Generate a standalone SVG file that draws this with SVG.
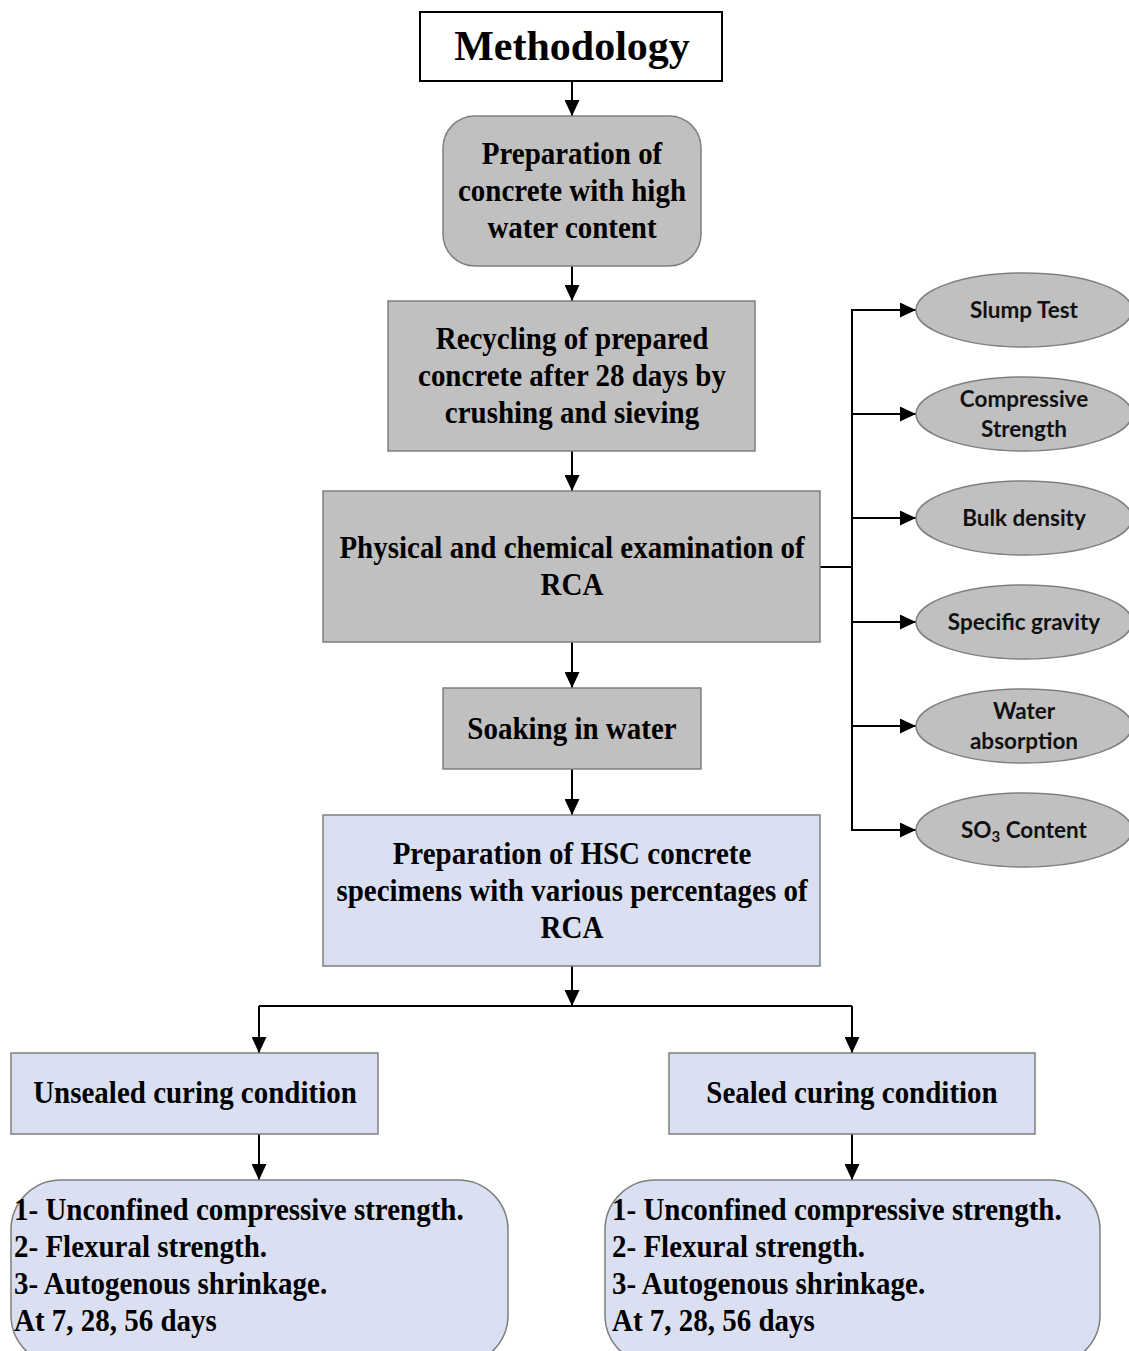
<svg xmlns="http://www.w3.org/2000/svg" width="1129" height="1351" viewBox="0 0 1129 1351">
<defs>
<style>
.box{fill:#c0c0c0;stroke:#7f7f7f;stroke-width:1.5}
.blue{fill:#dae0f2;stroke:#7f7f7f;stroke-width:1.5}
.ell{fill:#c0c0c0;stroke:#7f7f7f;stroke-width:1.5}
.t{font-family:"Liberation Serif","Times New Roman",serif;font-weight:bold;font-size:29px;fill:#000;text-anchor:middle}
.tl{font-family:"Liberation Serif","Times New Roman",serif;font-weight:bold;font-size:29px;fill:#000}
.e{font-family:Lato,"Open Sans",sans-serif;font-weight:bold;font-size:22.5px;fill:#111;text-anchor:middle}
.c{fill:none;stroke:#000;stroke-width:2}
</style>
<marker id="ah" viewBox="0 0 16 15" refX="16" refY="7.5" markerWidth="16" markerHeight="15" markerUnits="userSpaceOnUse" orient="auto">
<path d="M0,0 L16,7.5 L0,15 z" fill="#000"/>
</marker>
</defs>
<rect width="1129" height="1351" fill="#fff"/>

<g id="connectors">
<path class="c" d="M572,81 V116" marker-end="url(#ah)"/>
<path class="c" d="M572,266 V301" marker-end="url(#ah)"/>
<path class="c" d="M572,451 V491" marker-end="url(#ah)"/>
<path class="c" d="M572,642 V688" marker-end="url(#ah)"/>
<path class="c" d="M572,769 V815" marker-end="url(#ah)"/>
<path class="c" d="M572,966 V1006" marker-end="url(#ah)"/>
<path class="c" d="M259,1006 H852"/>
<path class="c" d="M259,1006 V1053" marker-end="url(#ah)"/>
<path class="c" d="M852,1006 V1053" marker-end="url(#ah)"/>
<path class="c" d="M259,1134 V1180" marker-end="url(#ah)"/>
<path class="c" d="M852,1134 V1180" marker-end="url(#ah)"/>
<path class="c" d="M820,567 H852"/>
<path class="c" d="M852,309 V830"/>
<path class="c" d="M852,310 H916" marker-end="url(#ah)"/>
<path class="c" d="M852,414 H916" marker-end="url(#ah)"/>
<path class="c" d="M852,518 H916" marker-end="url(#ah)"/>
<path class="c" d="M852,622 H916" marker-end="url(#ah)"/>
<path class="c" d="M852,726 H916" marker-end="url(#ah)"/>
<path class="c" d="M851,830 H916" marker-end="url(#ah)"/>
</g>

<g id="methodology">
<rect x="420" y="12" width="302" height="69" fill="#fff" stroke="#000" stroke-width="2"/>
<text class="t" x="572" y="60" style="font-size:42px">Methodology</text>
</g>

<g id="prep">
<rect class="box" x="443" y="116" width="258" height="150" rx="32"/>
<text class="t" transform="translate(572,164) scale(1,1.12)">Preparation of</text>
<text class="t" transform="translate(572,201) scale(1,1.12)">concrete with high</text>
<text class="t" transform="translate(572,238) scale(1,1.12)">water content</text>
</g>

<g id="recycling">
<rect class="box" x="388" y="301" width="367" height="150"/>
<text class="t" transform="translate(572,349) scale(1,1.12)">Recycling of prepared</text>
<text class="t" transform="translate(572,386) scale(1,1.12)">concrete after 28 days by</text>
<text class="t" transform="translate(572,423) scale(1,1.12)">crushing and sieving</text>
</g>

<g id="examination">
<rect class="box" x="323" y="491" width="497" height="151"/>
<text class="t" transform="translate(572,558) scale(1,1.12)">Physical and chemical examination of</text>
<text class="t" transform="translate(572,595) scale(1,1.12)">RCA</text>
</g>

<g id="soaking">
<rect class="box" x="443" y="688" width="258" height="81"/>
<text class="t" transform="translate(572,739) scale(1,1.12)">Soaking in water</text>
</g>

<g id="hsc">
<rect class="blue" x="323" y="815" width="497" height="151"/>
<text class="t" transform="translate(572,864) scale(1,1.12)">Preparation of HSC concrete</text>
<text class="t" transform="translate(572,901) scale(1,1.12)">specimens with various percentages of</text>
<text class="t" transform="translate(572,938) scale(1,1.12)">RCA</text>
</g>

<g id="unsealed">
<rect class="blue" x="11" y="1053" width="367" height="81"/>
<text class="t" transform="translate(195,1103) scale(1,1.12)">Unsealed curing condition</text>
</g>

<g id="sealed">
<rect class="blue" x="669" y="1053" width="366" height="81"/>
<text class="t" transform="translate(852,1103) scale(1,1.12)">Sealed curing condition</text>
</g>

<g id="tests-unsealed">
<rect class="blue" x="11" y="1180" width="497" height="185" rx="50"/>
<text class="tl" transform="translate(14,1220) scale(1,1.12)">1- Unconfined compressive strength.</text>
<text class="tl" transform="translate(14,1257) scale(1,1.12)">2- Flexural strength.</text>
<text class="tl" transform="translate(14,1294) scale(1,1.12)">3- Autogenous shrinkage.</text>
<text class="tl" transform="translate(14,1331) scale(1,1.12)">At 7, 28, 56 days</text>
</g>

<g id="tests-sealed">
<rect class="blue" x="605" y="1180" width="495" height="185" rx="50"/>
<text class="tl" transform="translate(612,1220) scale(1,1.12)">1- Unconfined compressive strength.</text>
<text class="tl" transform="translate(612,1257) scale(1,1.12)">2- Flexural strength.</text>
<text class="tl" transform="translate(612,1294) scale(1,1.12)">3- Autogenous shrinkage.</text>
<text class="tl" transform="translate(612,1331) scale(1,1.12)">At 7, 28, 56 days</text>
</g>

<g id="slump">
<ellipse class="ell" cx="1024" cy="310" rx="108" ry="37"/>
<text class="e" x="1024" y="318">Slump Test</text>
</g>
<g id="compressive">
<ellipse class="ell" cx="1024" cy="414" rx="108" ry="37"/>
<text class="e" x="1024" y="407">Compressive</text>
<text class="e" x="1024" y="437">Strength</text>
</g>
<g id="bulk">
<ellipse class="ell" cx="1024" cy="518" rx="108" ry="37"/>
<text class="e" x="1024" y="526">Bulk density</text>
</g>
<g id="specific">
<ellipse class="ell" cx="1024" cy="622" rx="108" ry="37"/>
<text class="e" x="1024" y="630">Specific gravity</text>
</g>
<g id="water">
<ellipse class="ell" cx="1024" cy="726" rx="108" ry="37"/>
<text class="e" x="1024" y="719">Water</text>
<text class="e" x="1024" y="749">absorption</text>
</g>
<g id="so3">
<ellipse class="ell" cx="1024" cy="830" rx="108" ry="37"/>
<text class="e" x="1024" y="838">SO<tspan font-size="15" dy="4">3</tspan><tspan dy="-4"> Content</tspan></text>
</g>
</svg>
